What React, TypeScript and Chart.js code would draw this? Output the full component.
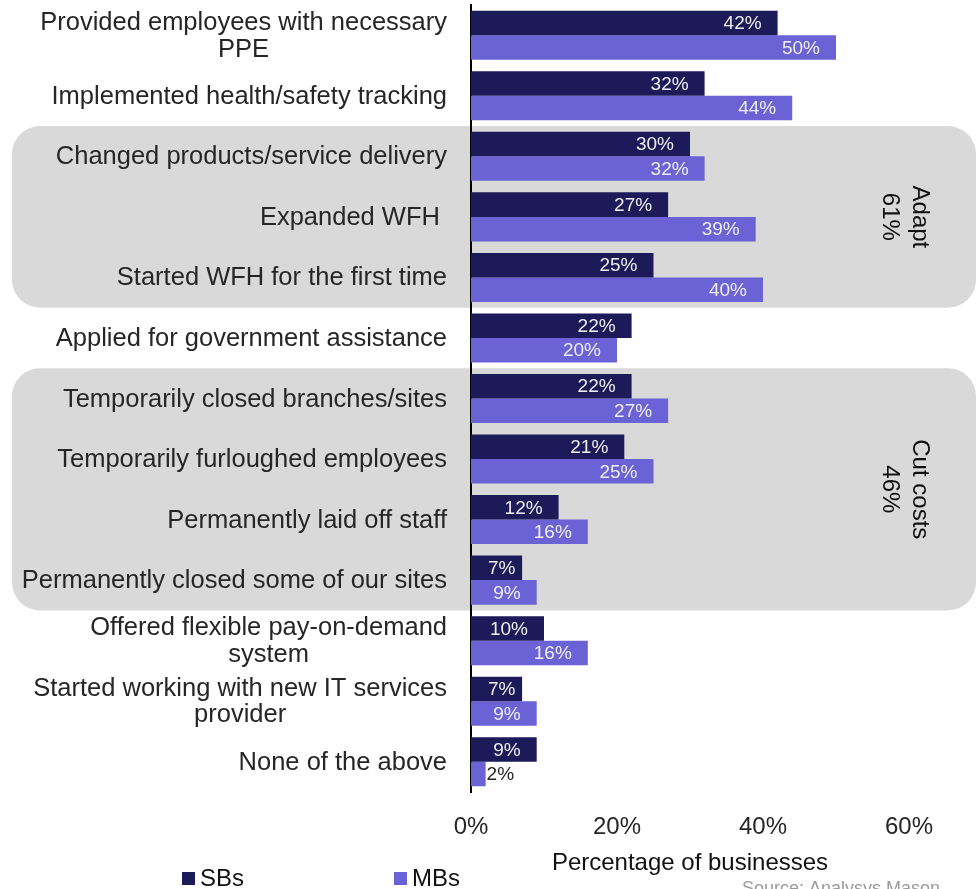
import { useEffect, useRef } from 'react';
import { Chart, registerables } from 'chart.js';

Chart.register(...registerables);

const categories: (string | string[])[] = [
  ['Provided employees with necessary', 'PPE'],
  'Implemented health/safety tracking',
  'Changed products/service delivery',
  'Expanded WFH ',
  'Started WFH for the first time',
  'Applied for government assistance',
  'Temporarily closed branches/sites',
  'Temporarily furloughed employees',
  'Permanently laid off staff',
  'Permanently closed some of our sites',
  ['Offered flexible pay-on-demand', 'system'],
  ['Started working with new IT services', 'provider'],
  'None of the above',
];
const seriesNames = ['SBs', 'MBs'];
const sbValues = [42, 32, 30, 27, 25, 22, 22, 21, 12, 7, 10, 7, 9];
const mbValues = [50, 44, 32, 39, 40, 20, 27, 25, 16, 9, 16, 9, 2];
const xTickValues = [0, 20, 40, 60];
const groupLabels = [['Adapt', '61%'], ['Cut costs', '46%']];
const groupRanges = [[2, 4], [6, 9]];
const axisTitle = 'Percentage of businesses';
const sourceText = 'Source: Analysys Mason';

const FONT = '"Liberation Sans", Arial, sans-serif';
const SB_COLOR = '#1c1a58';
const MB_COLOR = '#6a62d5';
const TEXT = '#262626';

function roundRect(ctx: CanvasRenderingContext2D, x: number, y: number, w: number, h: number, r: number) {
  ctx.beginPath();
  ctx.moveTo(x + r, y);
  ctx.lineTo(x + w - r, y);
  ctx.arcTo(x + w, y, x + w, y + r, r);
  ctx.lineTo(x + w, y + h - r);
  ctx.arcTo(x + w, y + h, x + w - r, y + h, r);
  ctx.lineTo(x + r, y + h);
  ctx.arcTo(x, y + h, x, y + h - r, r);
  ctx.lineTo(x, y + r);
  ctx.arcTo(x, y, x + r, y, r);
  ctx.closePath();
}

const decorPlugin = {
  id: 'decor',
  beforeDraw(chart: any) {
    const ctx = chart.ctx as CanvasRenderingContext2D;
    const y = chart.scales.y;
    const band = (y.getPixelForValue(1) - y.getPixelForValue(0));
    ctx.save();
    groupRanges.forEach(([a, b], gi) => {
      const top = y.getPixelForValue(a) - band / 2;
      const bottom = y.getPixelForValue(b) + band / 2;
      ctx.fillStyle = '#d9d9d9';
      roundRect(ctx, 12, top, 964, bottom - top, 28);
      ctx.fill();
      const cx = 905;
      const cy = (top + bottom) / 2;
      ctx.save();
      ctx.translate(cx, cy);
      ctx.rotate(Math.PI / 2);
      ctx.fillStyle = '#111';
      ctx.font = `24px ${FONT}`;
      ctx.textAlign = 'center';
      ctx.textBaseline = 'middle';
      const lines = groupLabels[gi];
      lines.forEach((ln, i) => {
        ctx.fillText(ln, 0, (i - (lines.length - 1) / 2) * 30);
      });
      ctx.restore();
    });
    ctx.restore();
  },
  afterDraw(chart: any) {
    const ctx = chart.ctx as CanvasRenderingContext2D;
    const y = chart.scales.y;
    const right = chart.chartArea.left - 24;
    ctx.save();
    ctx.font = `25.5px ${FONT}`;
    ctx.fillStyle = TEXT;
    ctx.textBaseline = 'middle';
    const lh = 26.5;
    categories.forEach((c, i) => {
      const lines = Array.isArray(c) ? c : [c];
      const cy = y.getPixelForValue(i) + 1;
      const widths = lines.map((l) => ctx.measureText(l).width);
      const maxW = Math.max(...widths);
      const blockCenter = right - maxW / 2;
      ctx.textAlign = 'center';
      lines.forEach((l, j) => {
        ctx.fillText(l, blockCenter, cy + (j - (lines.length - 1) / 2) * lh);
      });
    });
    ctx.font = `19px ${FONT}`;
    chart.data.datasets.forEach((ds: any, di: number) => {
      const meta = chart.getDatasetMeta(di);
      meta.data.forEach((bar: any, i: number) => {
        const txt = ds.data[i] + '%';
        const w = ctx.measureText(txt).width;
        const barW = bar.x - bar.base;
        if (barW >= w + 12) {
          const r = Math.max(bar.x - 16, bar.base + 17 + w);
          ctx.textAlign = 'right';
          ctx.fillStyle = '#eeeeee';
          ctx.fillText(txt, Math.min(r, bar.x - 3), bar.y + 1);
        } else {
          ctx.textAlign = 'left';
          ctx.fillStyle = TEXT;
          ctx.fillText(txt, bar.x + 1, bar.y + 1);
        }
      });
    });
    ctx.font = `24px ${FONT}`;
    ctx.textAlign = 'left';
    const legendX = [182, 394];
    seriesNames.forEach((n, i) => {
      ctx.fillStyle = i === 0 ? SB_COLOR : MB_COLOR;
      ctx.fillRect(legendX[i], 872, 13, 13);
      ctx.fillStyle = '#111';
      ctx.fillText(n, legendX[i] + 18, 879);
    });
    ctx.font = `18px ${FONT}`;
    ctx.fillStyle = '#9a9a9a';
    ctx.textBaseline = 'top';
    ctx.fillText(sourceText, 742, 880);
    ctx.restore();
  },
};

export default function App() {
  const ref = useRef<HTMLCanvasElement>(null);
  useEffect(() => {
    document.body.style.margin = '0';
    const chart = new Chart(ref.current as HTMLCanvasElement, {
      type: 'bar',
      data: {
        labels: categories.map((c) => (Array.isArray(c) ? c.join(' ') : c)),
        datasets: [
          { label: seriesNames[0], data: sbValues, backgroundColor: SB_COLOR, categoryPercentage: 0.81, barPercentage: 1 },
          { label: seriesNames[1], data: mbValues, backgroundColor: MB_COLOR, categoryPercentage: 0.81, barPercentage: 1 },
        ],
      },
      options: {
        indexAxis: 'y',
        responsive: false,
        animation: false,
        layout: { padding: { left: 471, right: 68, top: 5, bottom: 0 } },
        scales: {
          x: {
            min: 0,
            max: 60,
            grid: { display: false, drawTicks: false },
            border: { display: false },
            afterBuildTicks: (s: any) => {
              s.ticks = xTickValues.map((v) => ({ value: v }));
            },
            ticks: {
              callback: (v: any) => v + '%',
              font: { family: FONT, size: 24 },
              color: TEXT,
              padding: 21,
              maxRotation: 0,
            },
            title: {
              display: true,
              text: axisTitle,
              font: { family: FONT, size: 24 },
              color: '#111',
              padding: { top: 0, bottom: 11 },
            },
            afterFit: (s: any) => {
              s.height = 97;
            },
          },
          y: {
            grid: { display: false, drawTicks: false },
            border: { display: true, color: '#000', width: 2 },
            ticks: { display: false },
          },
        },
        plugins: { legend: { display: false }, tooltip: { enabled: false } },
      },
      plugins: [decorPlugin],
    } as any);
    return () => chart.destroy();
  }, []);
  return (
    <div style={{ position: 'absolute', left: 0, top: 0, width: 977, height: 889, background: '#fff' }}>
      <canvas ref={ref} width={977} height={889} style={{ width: 977, height: 889 }} />
    </div>
  );
}
